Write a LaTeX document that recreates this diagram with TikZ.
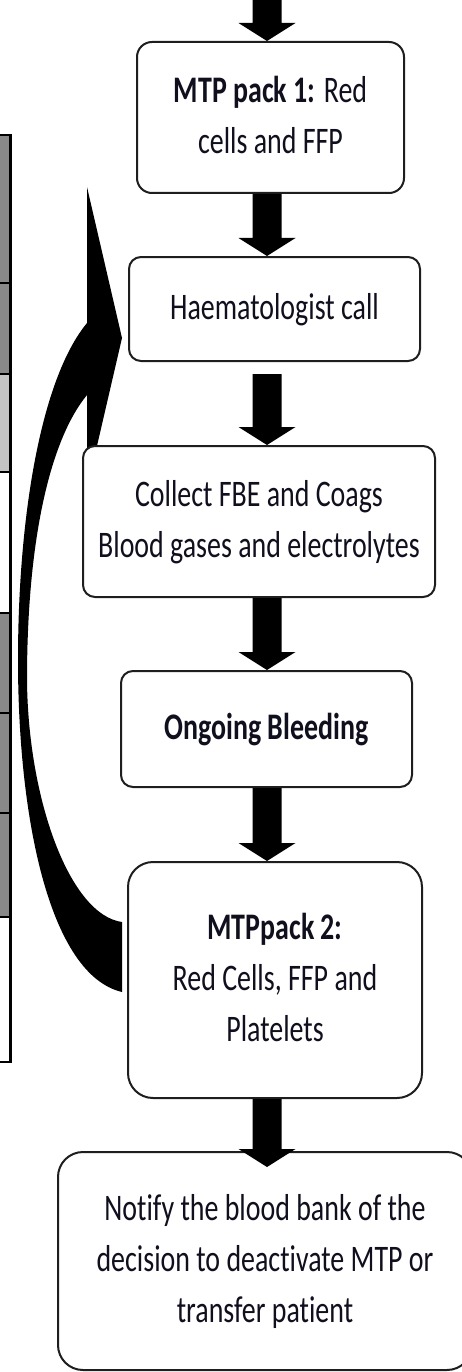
\documentclass[tikz,border=0pt]{standalone}
\usepackage{fontspec}
\setmainfont{Carlito}[Ligatures={NoCommon}]
\usepackage{graphicx}
\usetikzlibrary{calc}
\definecolor{tg}{RGB}{137,137,137}
\definecolor{tl}{RGB}{196,196,196}
\definecolor{bord}{RGB}{30,30,30}
\definecolor{ink}{RGB}{15,15,30}
\newcommand\bxt[2][0pt]{\raisebox{#1}{\scalebox{0.745}[1]{\begin{tabular}{@{}c@{}}#2\end{tabular}}}}
\begin{document}
\begin{tikzpicture}[x=1pt,y=-1pt,
  box/.style={draw=bord, line width=2pt, fill=white, inner sep=0pt,
    font=\fontsize{37.5}{51}\selectfont, text=ink},
  blk/.style={fill=black, to path={let \p1=(\tikztostart), \p2=(\tikztotarget) in
    (\x1-14.5pt,\y1) -- (\x1-14.5pt,\y2+18pt) -- (\x1-28.5pt,\y2+18pt) -- (\x1,\y2)
    -- (\x1+28.5pt,\y2+18pt) -- (\x1+14.5pt,\y2+18pt) -- (\x1+14.5pt,\y1) -- cycle}}]
\useasboundingbox (0,0) rectangle (462,1372);
% table on the left
\foreach \a/\b/\c in {135/283/tg, 283/374/tg, 374/472/tl, 472/613/white, 613/713/tg, 713/813/tg, 813/917/tg, 917/1062/white}
  \draw[line width=2pt, fill=\c] (-5,\a) rectangle (10,\b);
\draw[line width=3pt] (10,134) -- (10,1063);
% curved block arrow
\fill[black] (122,338) -- (87,187) -- (87,323)
  .. controls (40,380) and (18,520) .. (18,660)
  .. controls (18,820) and (50,975) .. (122,992)
  -- (122,922)
  .. controls (70,915) and (28,800) .. (27,680)
  .. controls (27,540) and (50,440) .. (87,395)
  -- (87,489) -- cycle;
% boxes
\node[box, rounded corners=15pt, minimum width=267pt, minimum height=151pt] (b1) at (270.5,117.5)
  {\bxt[2pt]{\textbf{MTP pack 1:} Red\\cells and FFP}};
\node[box, rounded corners=12pt, minimum width=291pt, minimum height=104pt] (b2) at (274.5,309)
  {\bxt[7pt]{Haematologist call}};
\node[box, rounded corners=12pt, minimum width=352pt, minimum height=151pt] (b3) at (259,521.5)
  {\bxt{Collect FBE and Coags\\Blood gases and electrolytes}};
\node[box, rounded corners=12pt, minimum width=291pt, minimum height=116pt] (b4) at (266.5,729)
  {\bxt[10pt]{\textbf{Ongoing Bleeding}}};
\node[box, rounded corners=25pt, minimum width=294pt, minimum height=236pt] (b5) at (275,980)
  {\bxt[17pt]{\textbf{MTPpack 2:}\\Red Cells, FFP and\\Platelets}};
\node[box, rounded corners=25pt, minimum width=414pt, minimum height=218pt] (b6) at (265,1261)
  {\bxt[8pt]{Notify the blood bank of the\\decision to deactivate MTP or\\transfer patient}};
% block arrows
\coordinate (ax) at (267,0);
\coordinate (top) at (267,-5);
\path[blk] (top) to (b1.north -| ax);
\path[blk] (b1.south -| ax) to (b2.north -| ax);
\path[blk] ($(b2.south -| ax)+(0,12)$) to (b3.north -| ax);
\path[blk] (b3.south -| ax) to (b4.north -| ax);
\path[blk] (b4.south -| ax) to (b5.north -| ax);
\path[blk] (b5.south -| ax) to ($(b6.north -| ax)+(0,16)$);
\end{tikzpicture}
\end{document}
